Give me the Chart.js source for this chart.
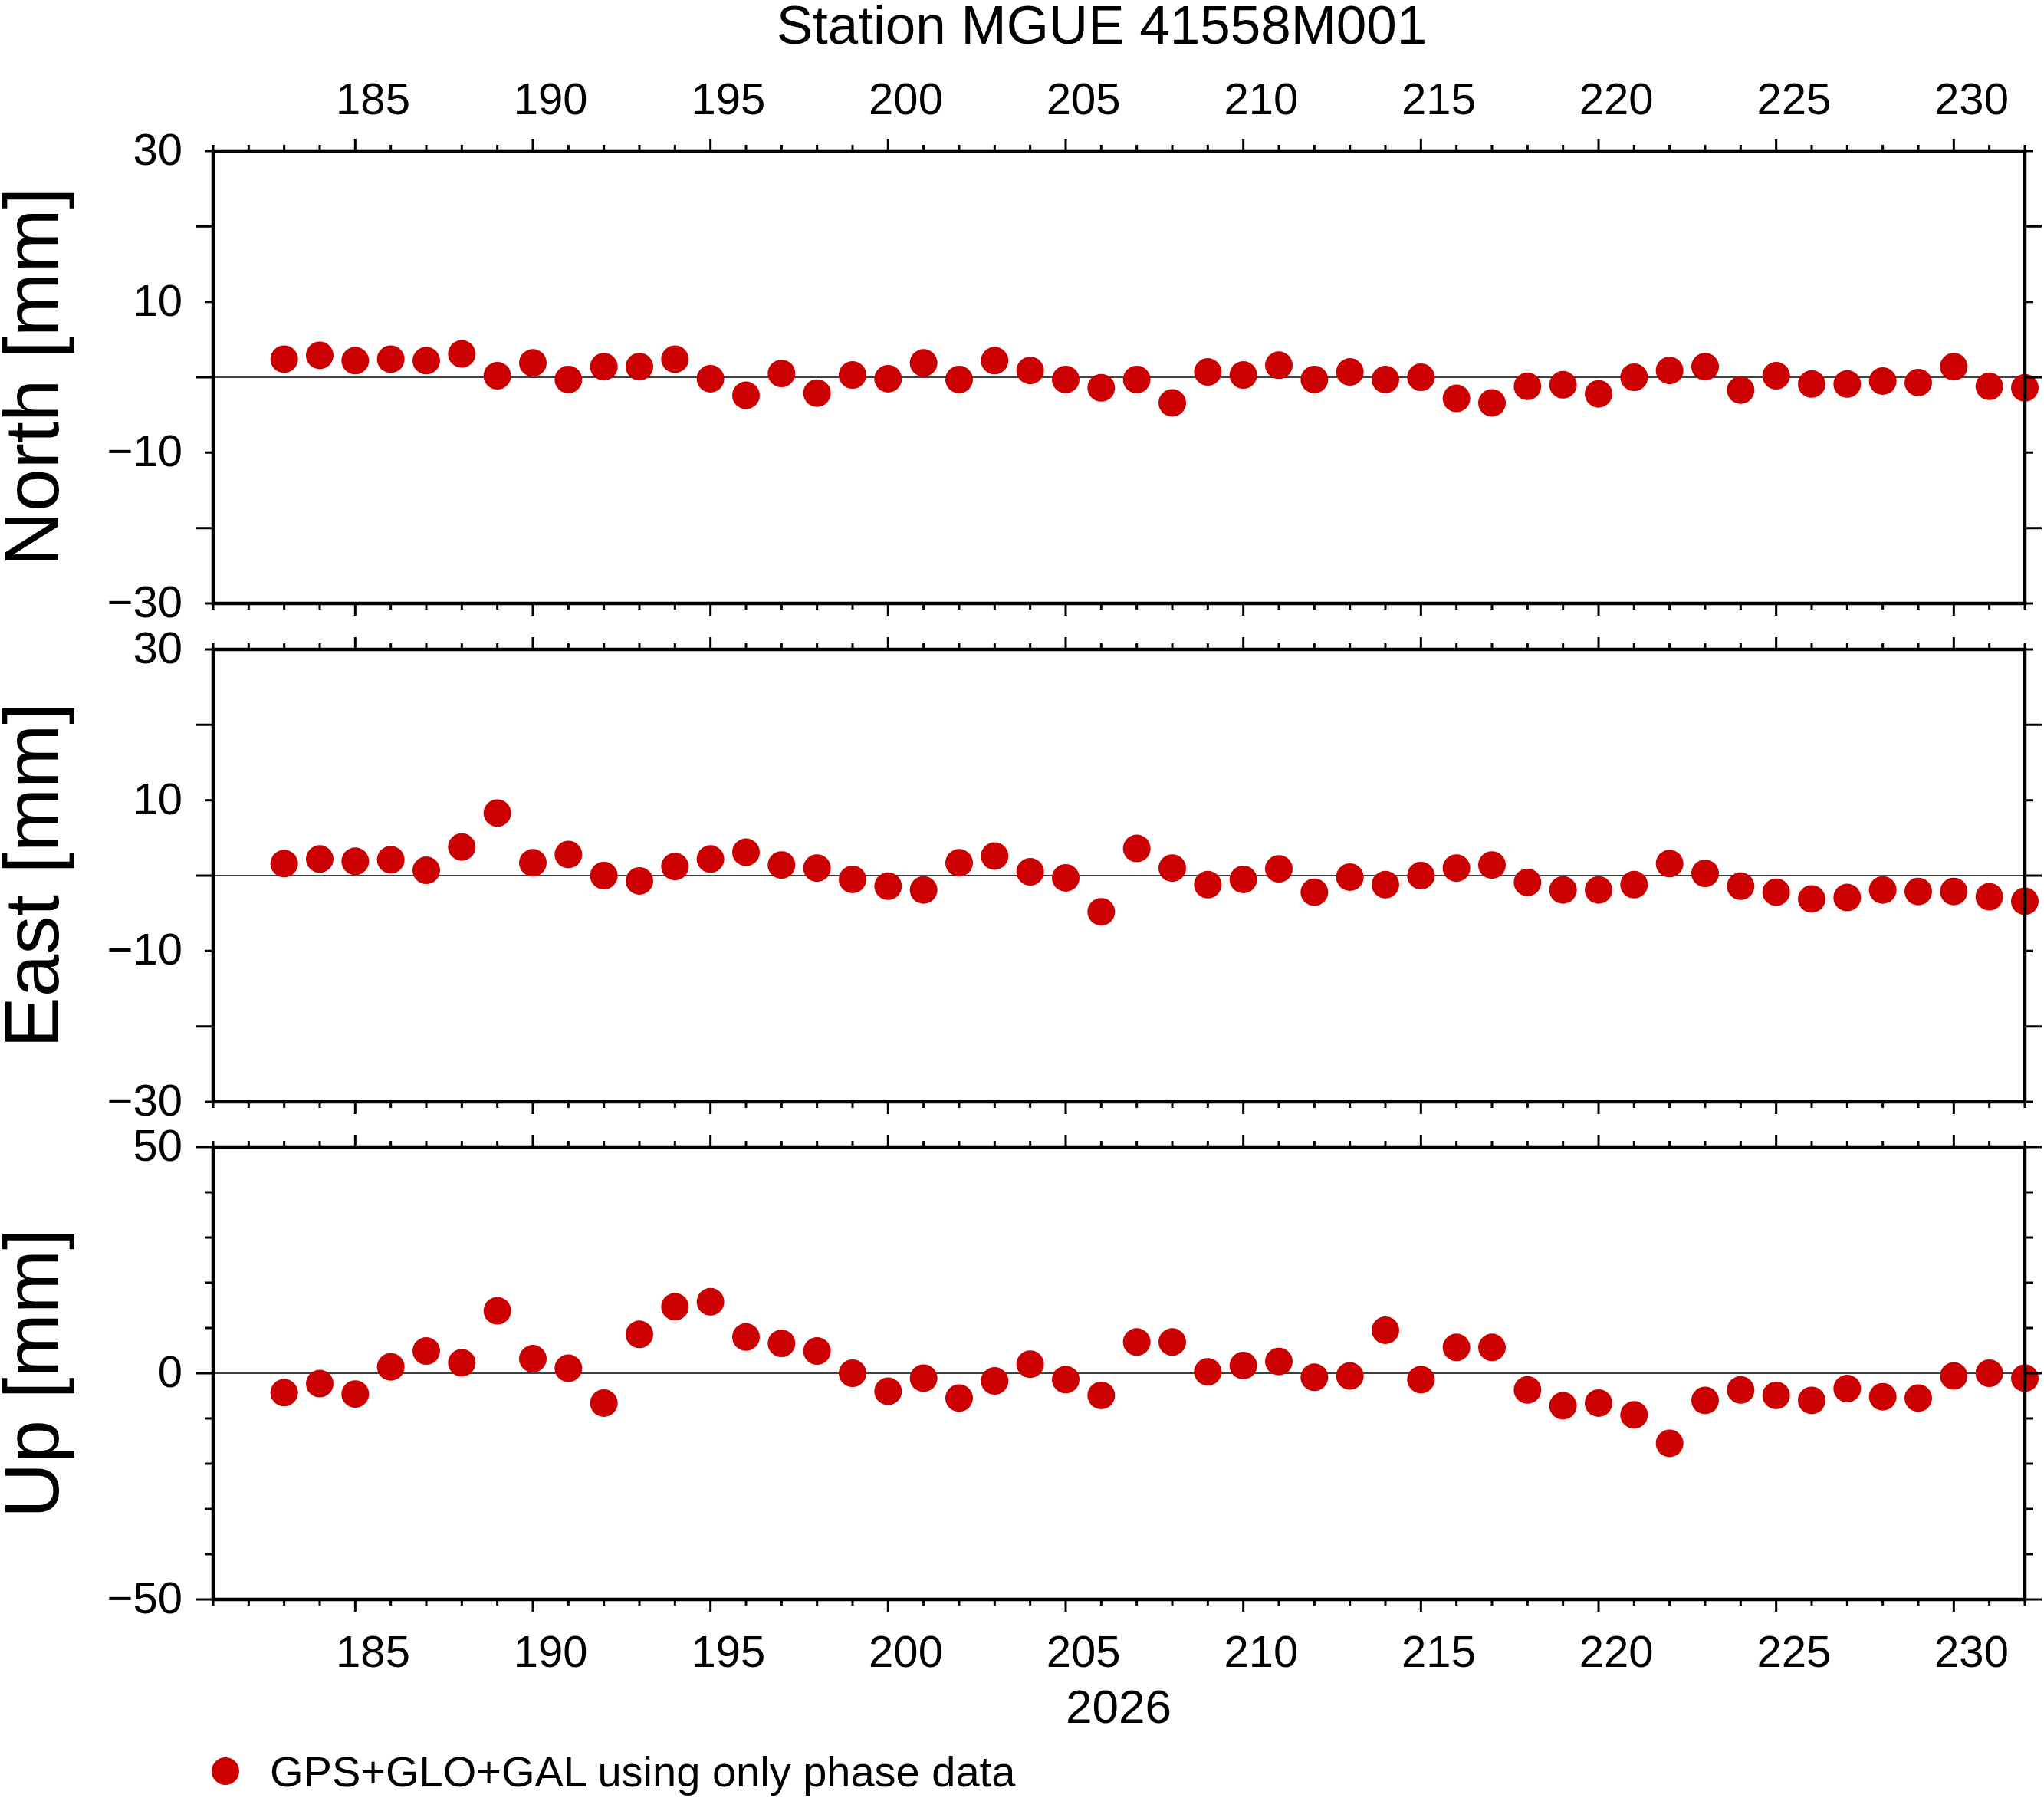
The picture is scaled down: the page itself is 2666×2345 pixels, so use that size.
<!DOCTYPE html>
<html>
<head>
<meta charset="utf-8">
<script src="https://cdn.jsdelivr.net/npm/chart.js@4.4.1/dist/chart.umd.min.js"></script>
<style>
  body { margin: 0; background: #fff; font-family: "Liberation Sans", Arial, sans-serif; }
  #page { position: relative; width: 2666px; height: 2345px; overflow: hidden; }
  canvas { position: absolute; left: 0; top: 0; }
  .txt { position: absolute; color: #000; white-space: nowrap; }
</style>
</head>
<body>
<div id="page">
  <canvas id="north" width="2666" height="2345"></canvas>
  <canvas id="east" width="2666" height="2345"></canvas>
  <canvas id="up" width="2666" height="2345"></canvas>
  <div class="txt" style="left:0;width:2874px;text-align:center;top:-8px;font-size:71px;">Station MGUE 41558M001</div>
  <div class="txt" style="left:0;width:2918px;text-align:center;top:2190px;font-size:62px;">2026</div>
  <div class="txt" style="left:276px;top:2292px;width:36px;height:36px;border-radius:50%;background:#cc0000;"></div>
  <div class="txt" style="left:352px;top:2278px;font-size:56px;">GPS+GLO+GAL using only phase data</div>
</div>
<script>
const days = [183,184,185,186,187,188,189,190,191,192,193,194,195,196,197,198,199,200,201,202,
  203,204,205,206,207,208,209,210,211,212,213,214,215,216,217,218,219,220,221,222,
  223,224,225,226,227,228,229,230,231,232]
const north = [2.4,2.9,2.2,2.4,2.2,3.1,0.2,1.9,-0.3,1.4,1.4,2.4,-0.2,-2.4,0.5,-2.1,0.3,-0.2,1.9,-0.3,
  2.2,0.9,-0.3,-1.4,-0.3,-3.4,0.7,0.3,1.6,-0.3,0.7,-0.3,0,-2.8,-3.4,-1.2,-1.0,-2.2,0,0.9,
  1.4,-1.7,0.2,-0.9,-0.9,-0.5,-0.7,1.4,-1.2,-1.4]
const east = [1.6,2.2,1.9,2.1,0.7,3.8,8.3,1.7,2.8,0,-0.7,1.2,2.2,3.1,1.4,1.0,-0.5,-1.4,-1.9,1.7,
  2.6,0.5,-0.3,-4.8,3.6,1.0,-1.2,-0.5,0.9,-2.2,-0.2,-1.2,0,1.0,1.4,-0.9,-1.9,-1.9,-1.2,1.6,
  0.3,-1.4,-2.2,-3.1,-2.9,-1.9,-2.1,-2.1,-2.8,-3.4]
const up = [-4.3,-2.3,-4.6,1.4,4.9,2.3,13.8,3.2,1.1,-6.6,8.6,14.7,15.8,8.0,6.6,4.9,0,-4.0,-1.1,-5.5,
  -1.7,2.0,-1.4,-4.9,6.9,6.9,0.3,1.7,2.6,-0.9,-0.6,9.5,-1.4,5.7,5.7,-3.7,-7.2,-6.6,-9.2,-15.5,
  -6.0,-3.7,-4.9,-6.0,-3.4,-5.2,-5.5,-0.6,0,-1.1]
const xMin = 181, xMax = 232
const xLabels = [185,190,195,200,205,210,215,220,225,230]

const FONT = '"Liberation Sans", Arial, sans-serif'

// GMT-style frame, ticks and annotations
const framePlugin = {
  id: 'frame',
  beforeDatasetsDraw(chart, args, opts) {
    const { ctx, chartArea: a } = chart
    const y = chart.scales.y
    const z = y.getPixelForValue(0)
    ctx.save()
    ctx.strokeStyle = '#000'
    ctx.lineWidth = 1.5
    ctx.beginPath(); ctx.moveTo(a.left, z); ctx.lineTo(a.right, z); ctx.stroke()
    ctx.restore()
  },
  afterDatasetsDraw(chart, args, opts) {
    const { ctx, chartArea: a } = chart
    const x = chart.scales.x, y = chart.scales.y
    ctx.save()
    ctx.strokeStyle = '#000'
    ctx.fillStyle = '#000'
    ctx.lineWidth = 3
    ctx.beginPath()
    for (let d = xMin; d <= xMax; d++) {
      const px = x.getPixelForValue(d)
      const len = d % 5 === 0 ? 16 : 8
      ctx.moveTo(px, a.top); ctx.lineTo(px, a.top - len)
      ctx.moveTo(px, a.bottom); ctx.lineTo(px, a.bottom + len)
    }
    for (let v = y.min; v <= y.max; v += opts.minor) {
      const py = y.getPixelForValue(v)
      const len = v % opts.major === 0 ? 22 : 11
      ctx.moveTo(a.left, py); ctx.lineTo(a.left - len, py)
      ctx.moveTo(a.right, py); ctx.lineTo(a.right + len, py)
    }
    ctx.stroke()
    ctx.lineWidth = 4.5
    ctx.strokeRect(a.left, a.top, a.right - a.left, a.bottom - a.top)

    ctx.font = '58px ' + FONT
    ctx.textAlign = 'right'; ctx.textBaseline = 'middle'
    for (let v = y.min; v <= y.max; v += opts.major) {
      ctx.fillText(v < 0 ? '\u2212' + Math.abs(v) : String(v), a.left - 40, y.getPixelForValue(v) + 2)
    }
    ctx.textAlign = 'center'
    if (opts.xTop || opts.xBottom) {
      for (const d of xLabels) {
        const px = x.getPixelForValue(d + 0.5)
        if (opts.xTop) ctx.fillText(String(d), px, a.top - 64)
        if (opts.xBottom) ctx.fillText(String(d), px, a.bottom + 72)
      }
    }
    ctx.font = '100px ' + FONT
    ctx.translate(44, (a.top + a.bottom) / 2)
    ctx.rotate(-Math.PI / 2)
    ctx.fillText(opts.title, 0, 4)
    ctx.restore()
  }
}

function makePanel(id, values, yMin, yMax, pad, frameOpts) {
  new Chart(document.getElementById(id), {
    type: 'scatter',
    data: {
      datasets: [{
        data: days.map((d, i) => ({ x: d, y: values[i] })),
        backgroundColor: '#cc0000',
        borderWidth: 0,
        pointRadius: 18,
        pointHoverRadius: 18
      }]
    },
    options: {
      responsive: false,
      animation: false,
      devicePixelRatio: 1,
      layout: { padding: pad },
      plugins: { legend: { display: false }, tooltip: { enabled: false }, frame: frameOpts },
      clip: false,
      scales: {
        x: { type: 'linear', min: xMin, max: xMax, display: false },
        y: { type: 'linear', min: yMin, max: yMax, display: false }
      }
    },
    plugins: [framePlugin]
  })
}

makePanel('north', north, -30, 30, { left: 278, right: 25, top: 197, bottom: 2345 - 787 },
  { title: 'North [mm]', minor: 10, major: 20, xTop: true })
makePanel('east', east, -30, 30, { left: 278, right: 25, top: 847, bottom: 2345 - 1437 },
  { title: 'East [mm]', minor: 10, major: 20 })
makePanel('up', up, -50, 50, { left: 278, right: 25, top: 1496, bottom: 2345 - 2086 },
  { title: 'Up [mm]', minor: 10, major: 50, xBottom: true })
</script>
</body>
</html>
